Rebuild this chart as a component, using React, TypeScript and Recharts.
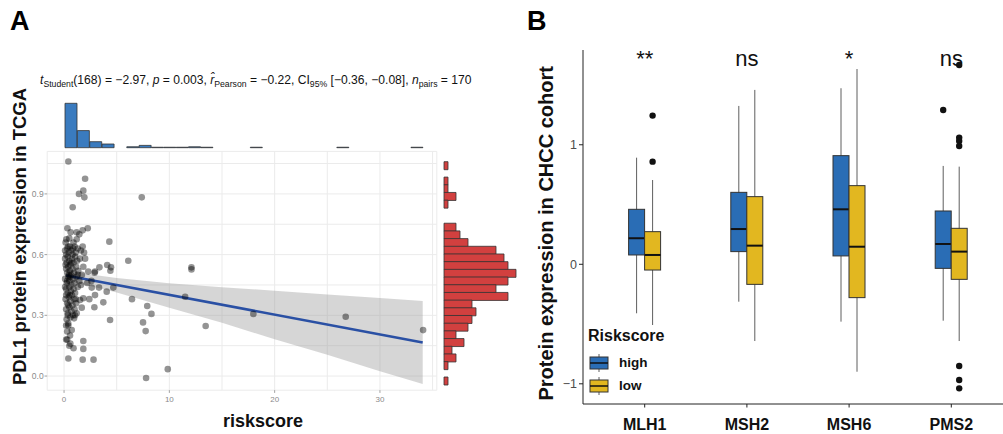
import React from "react";
import {
  ComposedChart,
  BarChart,
  Bar,
  Scatter,
  Line,
  Area,
  XAxis,
  YAxis,
  CartesianGrid,
  ReferenceDot,
  Legend,
} from "recharts";

const FONT = "'Liberation Sans', Arial, Helvetica, sans-serif";

// ---- panel A: riskscore vs PDL1 (TCGA) ----
// [riskscore, PDL1 protein expression]
const pdl1Points: [number, number][] = [
  [0.41, 1.06], [2.0, 0.975], [1.83, 0.916], [1.42, 0.9], [1.93, 0.883], [0.82, 0.834], [7.38, 0.883],
  [4.3, 0.664], [6.1, 0.57], [4.1, 0.549], [4.46, 0.537], [3.36, 0.537], [12.1, 0.527], [12.1, 0.537],
  [11.5, 0.392], [6.45, 0.38], [7.9, 0.346], [8.3, 0.307], [7.5, 0.265], [7.75, 0.222], [13.45, 0.247],
  [17.98, 0.307], [26.75, 0.293], [34.1, 0.227], [9.85, 0.034], [7.79, -0.01], [4.37, 0.277], [4.05, 0.417],
  [4.68, 0.437], [3.32, 0.437], [2.63, 0.437], [2.94, 0.4], [3.73, 0.364], [2.88, 0.34], [1.68, 0.338],
  [1.52, 0.376], [1.83, 0.384], [1.83, 0.173], [1.83, 0.134], [2.8, 0.081], [1.77, 0.081], [0.41, 0.087],
  [0.9, 0.137], [2.3, 0.516], [2.94, 0.516], [1.83, 0.54], [4.4, 0.52], [2.25, 0.73], [1.77, 0.72],
  [1.45, 0.7], [1.2, 0.71], [0.63, 0.71], [0.32, 0.73], [0.22, 0.676], [1.2, 0.676], [0.38, 0.64],
  [1.0, 0.64], [1.77, 0.64], [1.9, 0.61], [2.0, 0.58], [2.4, 0.38], [2.9, 0.51],
  [0.1, 0.62], [0.2, 0.6], [0.3, 0.63], [0.45, 0.61], [0.55, 0.64], [0.7, 0.62], [0.85, 0.63], [1.1, 0.61],
  [1.3, 0.63], [1.6, 0.62], [0.1, 0.58], [0.25, 0.56], [0.35, 0.59], [0.5, 0.57], [0.6, 0.55], [0.75, 0.58],
  [0.9, 0.56], [1.05, 0.59], [1.25, 0.57], [1.5, 0.58], [0.15, 0.55], [0.2, 0.53], [0.3, 0.51], [0.4, 0.54],
  [0.55, 0.52], [0.65, 0.5], [0.8, 0.53], [0.95, 0.51], [1.15, 0.54], [1.35, 0.52], [0.45, 0.5], [0.1, 0.48],
  [0.25, 0.46], [0.4, 0.49], [0.5, 0.47], [0.7, 0.45], [0.85, 0.48], [1.0, 0.46], [1.2, 0.49], [1.45, 0.47],
  [0.6, 0.49], [0.2, 0.43], [0.35, 0.41], [0.5, 0.44], [0.65, 0.42], [0.75, 0.4], [0.9, 0.43], [1.05, 0.41],
  [1.3, 0.44], [0.55, 0.4], [0.15, 0.38], [0.3, 0.36], [0.45, 0.39], [0.6, 0.37], [0.8, 0.35], [0.95, 0.38],
  [1.15, 0.36], [0.4, 0.35], [0.2, 0.33], [0.35, 0.31], [0.5, 0.34], [0.7, 0.32], [0.85, 0.3], [1.0, 0.33],
  [1.2, 0.31], [0.25, 0.28], [0.4, 0.26], [0.6, 0.29], [0.95, 0.285], [1.04, 0.3], [0.2, 0.25], [0.3, 0.22],
  [0.57, 0.2], [0.73, 0.227], [0.4, 0.25], [0.3, 0.18], [0.6, 0.16], [0.2, 0.18], [0.5, 0.15], [0.15, 0.66],
  [0.5, 0.68], [0.9, 0.66], [1.3, 0.5], [1.6, 0.45], [0.1, 0.44], [2.2, 0.46], [1.7, 0.5], [0.2, 0.4],
  [0.7, 0.56], [1.1, 0.38], [0.3, 0.47], [0.8, 0.6], [0.35, 0.3], [2.6, 0.47],
];

const fitX = [0.2, 34.06];
const fitY = [0.497, 0.166];

const bandX = [0.2, 2, 5, 10, 15, 20, 25, 30, 34.06];
const bandLow = [0.465, 0.451, 0.413, 0.338, 0.263, 0.182, 0.105, 0.024, -0.039];
const bandHigh = [0.529, 0.505, 0.485, 0.458, 0.439, 0.422, 0.403, 0.386, 0.371];

const xGridA = [0, 5, 10, 15, 20, 25, 30, 35];
const yGridA = [0, 0.15, 0.3, 0.45, 0.6, 0.75, 0.9, 1.05];
const xLabelsA = [0, 10, 20, 30];
const yLabelsA = [0, 0.3, 0.6, 0.9];

// marginal histogram of riskscore (bin centres, counts)
const riskBins = [0.7, 1.9, 3.0, 4.2, 5.4, 6.5, 7.7, 8.9, 10.0, 11.2, 12.4, 13.6, 14.7, 15.9, 17.1, 18.2, 19.4,
  20.6, 21.7, 22.9, 24.1, 25.2, 26.4, 27.6, 28.8, 29.9, 31.1, 32.3, 33.4];
const riskCounts = [96, 37, 13, 8, 0, 2, 5, 1, 1, 1, 2, 1, 0, 0, 0, 1, 0, 0, 0, 0, 0, 0, 1, 0, 0, 0, 0, 0, 1];

// marginal histogram of PDL1 (bin centres top to bottom, counts)
const pdl1Bins = [1.04, 1.0, 0.96, 0.93, 0.89, 0.85, 0.81, 0.77, 0.73, 0.7, 0.66, 0.62, 0.58, 0.54, 0.51,
  0.47, 0.43, 0.39, 0.35, 0.32, 0.28, 0.24, 0.2, 0.16, 0.13, 0.09, 0.05, 0.01, -0.03];
const pdl1Counts = [1, 0, 1, 1, 3, 1, 0, 0, 3, 4, 6, 13, 15, 16, 18, 16, 13, 16, 7, 8, 7, 6, 3, 5, 2, 3, 1, 0, 1];

// ---- panel B: MMR protein expression by riskscore group (CHCC) ----
const genes = ["MLH1", "MSH2", "MSH6", "PMS2"];
const signif = ["**", "ns", "*", "ns"];
const signifY = [1.66, 1.66, 1.66, 1.66];

const highMin = [-0.41, -0.313, -0.48, -0.472];
const highQ1 = [0.078, 0.106, 0.07, -0.034];
const highMed = [0.218, 0.295, 0.46, 0.17];
const highQ3 = [0.46, 0.602, 0.909, 0.446];
const highMax = [0.892, 1.325, 1.473, 0.823];
const highOut: number[][] = [[], [], [], [1.291]];

const lowMin = [-0.508, -0.642, -0.899, -0.642];
const lowQ1 = [-0.048, -0.168, -0.279, -0.126];
const lowMed = [0.078, 0.156, 0.147, 0.106];
const lowQ3 = [0.273, 0.566, 0.658, 0.301];
const lowMax = [0.705, 1.459, 1.634, 0.817];
const lowOut: number[][] = [[1.244, 0.859], [], [], [1.668, 1.06, 1.032, 0.99, -0.851, -0.968, -1.038]];

const BLUE = "#2a6db5";
const YELLOW = "#e2b720";

const scatterRows = pdl1Points.map(([x, y]) => ({ x, y }));
const fitRows = fitX.map((x, i) => ({ x, fit: fitY[i] }));
const bandRows = bandX.map((x, i) => ({ x, ci: [bandLow[i], bandHigh[i]] }));
const topRows = riskBins.map((bin, i) => ({ bin, count: riskCounts[i] }));
const rightRows = pdl1Bins.map((bin, i) => ({ bin, count: pdl1Counts[i] }));
const boxRows = genes.map((name, i) => ({
  name,
  high: { min: highMin[i], q1: highQ1[i], med: highMed[i], q3: highQ3[i], max: highMax[i], out: highOut[i] },
  low: { min: lowMin[i], q1: lowQ1[i], med: lowMed[i], q3: lowQ3[i], max: lowMax[i], out: lowOut[i] },
}));

const TICK_GREY = "#8a8a8a";

function RiskTick(props: any) {
  const { x, y, payload } = props;
  if (!xLabelsA.includes(payload.value)) return <g />;
  return (
    <g>
      <line x1={x} x2={x} y1={y} y2={y + 2.7} stroke={TICK_GREY} strokeWidth={0.8} />
      <text x={x} y={y + 12} textAnchor="middle" fontSize={8} fill={TICK_GREY}>
        {payload.value}
      </text>
    </g>
  );
}

function PdlTick(props: any) {
  const { x, y, payload } = props;
  if (!yLabelsA.some((v) => Math.abs(v - payload.value) < 1e-6)) return <g />;
  return (
    <g>
      <line x1={x - 2.7} x2={x} y1={y} y2={y} stroke={TICK_GREY} strokeWidth={0.8} />
      <text x={x - 3.5} y={y + 3} textAnchor="end" fontSize={8.5} fill={TICK_GREY}>
        {payload.value.toFixed(1)}
      </text>
    </g>
  );
}

function GeneTick(props: any) {
  const { x, y, payload } = props;
  return (
    <g>
      <line x1={x} x2={x} y1={y} y2={y + 3.5} stroke="#222" strokeWidth={1} />
      <text x={x} y={y + 25.5} textAnchor="middle" fontSize={16} fontWeight="bold" fill="#111">
        {payload.value}
      </text>
    </g>
  );
}

function boxShape(group: "high" | "low", fill: string) {
  return (props: any) => {
    const { x, y, width, height, payload } = props;
    const s = payload[group];
    const top = Math.min(y, y + height);
    const bot = Math.max(y, y + height);
    const px = (v: number) => bot - ((v - s.min) / (s.max - s.min)) * (bot - top);
    const cx = x + width / 2;
    return (
      <g>
        <line x1={cx} x2={cx} y1={px(s.max)} y2={px(s.min)} stroke="#5e5e5e" strokeWidth={1} />
        <rect x={x} y={px(s.q3)} width={width} height={px(s.q1) - px(s.q3)} fill={fill} stroke="#333" strokeWidth={1} />
        <line x1={x} x2={x + width} y1={px(s.med)} y2={px(s.med)} stroke="#111" strokeWidth={2} />
        {s.out.map((v: number, i: number) => (
          <circle key={i} cx={cx} cy={px(v)} r={3.2} fill="#111" />
        ))}
      </g>
    );
  };
}

function RiskLegend(props: any) {
  const items = props.payload || [];
  return (
    <div style={{ position: "relative", width: 120, height: 76, fontFamily: FONT, color: "#111" }}>
      <div style={{ position: "absolute", left: 0, top: 0, fontSize: 16, fontWeight: "bold", lineHeight: "20px" }}>
        Riskscore
      </div>
      {items.map((it: any, i: number) => (
        <div
          key={it.value}
          style={{ position: "absolute", left: 0, top: 26.5 + i * 23.5, height: 20, display: "flex", alignItems: "center" }}
        >
          <svg width={24} height={20}>
            <line x1={11} x2={11} y1={1} y2={19} stroke="#5e5e5e" />
            <rect x={2} y={4} width={18} height={12} fill={it.color} stroke="#333" />
            <line x1={2} x2={20} y1={10} y2={10} stroke="#111" strokeWidth={1.5} />
          </svg>
          <span style={{ marginLeft: 7, fontSize: 13.5, fontWeight: "bold", lineHeight: "20px" }}>{it.value}</span>
        </div>
      ))}
    </div>
  );
}

function ScatterPanel() {
  return (
    <ComposedChart
      width={460}
      height={434}
      data={bandRows}
      margin={{ top: 151.4, right: 23.2, bottom: 13.8, left: 7.2 }}
    >
      <CartesianGrid stroke="#ebebeb" strokeWidth={1} />
      <XAxis
        dataKey="x"
        type="number"
        domain={[-1.6, 35.4]}
        ticks={xGridA}
        allowDataOverflow
        height={30}
        axisLine={false}
        tickLine={false}
        tickSize={0}
        tickMargin={0}
        tick={<RiskTick />}
        interval={0}
      />
      <YAxis
        dataKey="y"
        type="number"
        domain={[-0.07, 1.11]}
        ticks={yGridA}
        allowDataOverflow
        width={40}
        axisLine={false}
        tickLine={false}
        tickSize={0}
        tickMargin={0}
        tick={<PdlTick />}
        interval={0}
      />
      <Scatter
        data={scatterRows}
        isAnimationActive={false}
        shape={(p: any) => <circle cx={p.cx} cy={p.cy} r={3.3} fill="#000" fillOpacity={0.42} />}
      />
      <Area dataKey="ci" type="linear" stroke="none" fill="#999999" fillOpacity={0.4} isAnimationActive={false} />
      <Line data={fitRows} dataKey="fit" stroke="#2a50a4" strokeWidth={2.6} dot={false} isAnimationActive={false} />
    </ComposedChart>
  );
}

function TopHist() {
  return (
    <BarChart
      width={440}
      height={160}
      data={topRows}
      margin={{ top: 103.3, right: 16.7, bottom: 12.3, left: 65 }}
      barCategoryGap={0}
    >
      <XAxis dataKey="bin" height={0} tick={false} tickLine={false} axisLine={{ stroke: "#333" }} interval={0} />
      <YAxis hide domain={[0, 96]} />
      <Bar dataKey="count" fill="#3a7bbf" stroke="#333" strokeWidth={0.8} isAnimationActive={false} />
    </BarChart>
  );
}

function RightHist() {
  return (
    <BarChart
      layout="vertical"
      width={100}
      height={434}
      data={rightRows}
      margin={{ top: 161.7, right: 14, bottom: 49.3, left: 14 }}
      barCategoryGap={0}
    >
      <XAxis type="number" hide domain={[0, 18]} />
      <YAxis type="category" dataKey="bin" width={0} tick={false} tickLine={false} axisLine={{ stroke: "#333" }} interval={0} />
      <Bar dataKey="count" fill="#d2403f" stroke="#333" strokeWidth={0.8} isAnimationActive={false} />
    </BarChart>
  );
}

function BoxPanel() {
  return (
    <ComposedChart
      width={490}
      height={434}
      data={boxRows}
      margin={{ top: 50, right: 7, bottom: 0, left: 13 }}
      barGap={0}
    >
      <XAxis
        dataKey="name"
        padding={{ left: 10.6, right: 10.6 }}
        height={30}
        axisLine={{ stroke: "#222" }}
        tickLine={false}
        tickSize={0}
        tickMargin={0}
        tick={<GeneTick />}
        interval={0}
      />
      <YAxis
        type="number"
        domain={[-1.169, 1.793]}
        ticks={[-1, 0, 1]}
        allowDataOverflow
        width={40}
        axisLine={{ stroke: "#222" }}
        tickLine={{ stroke: "#222" }}
        tickSize={4}
        tickMargin={2}
        tick={{ fontSize: 12.5, fill: "#4d4d4d" }}
        tickFormatter={(v: number) => (v < 0 ? "\u2212" + Math.abs(v) : String(v))}
      />
      <Bar
        name="high"
        dataKey={(d: any) => [d.high.min, d.high.max]}
        fill={BLUE}
        barSize={16}
        shape={boxShape("high", BLUE)}
        isAnimationActive={false}
      />
      <Bar
        name="low"
        dataKey={(d: any) => [d.low.min, d.low.max]}
        fill={YELLOW}
        barSize={16}
        shape={boxShape("low", YELLOW)}
        isAnimationActive={false}
      />
      {genes.map((g, i) => (
        <ReferenceDot
          key={g}
          x={g}
          y={signifY[i]}
          r={0}
          shape={(p: any) => (
            <text x={p.cx} y={p.cy} textAnchor="middle" fontSize={22} fill="#111">
              {signif[i]}
            </text>
          )}
        />
      ))}
      <Legend
        layout="vertical"
        align="center"
        verticalAlign="middle"
        wrapperStyle={{ left: 58, top: 326, width: 120 }}
        content={<RiskLegend />}
      />
    </ComposedChart>
  );
}

const subStyle: React.CSSProperties = { fontSize: 8.7, position: "relative", top: 3 };

export default function App() {
  return (
    <div
      style={{
        position: "absolute",
        left: 0,
        top: 0,
        width: 1003,
        height: 434,
        overflow: "hidden",
        background: "#fff",
        fontFamily: FONT,
      }}
    >
      <div style={{ position: "absolute", left: 0, top: 0 }}>
        <ScatterPanel />
      </div>
      <div style={{ position: "absolute", left: 0, top: 0 }}>
        <TopHist />
      </div>
      <div style={{ position: "absolute", left: 430, top: 0 }}>
        <RightHist />
      </div>
      <div style={{ position: "absolute", left: 530, top: 0 }}>
        <BoxPanel />
      </div>
      <div
        style={{
          position: "absolute",
          left: 40,
          top: 73,
          fontSize: 12.1,
          lineHeight: "15px",
          whiteSpace: "nowrap",
          color: "#111",
        }}
      >
        <i>t</i>
        <span style={subStyle}>Student</span>(168) = −2.97, <i>p</i> = 0.003,{" "}
        <i>r&#770;</i>
        <span style={subStyle}>Pearson</span> = −0.22, CI
        <span style={subStyle}>95%</span> [−0.36, −0.08], <i>n</i>
        <span style={subStyle}>pairs</span> = 170
      </div>
      <svg
        width={1003}
        height={434}
        style={{ position: "absolute", left: 0, top: 0, pointerEvents: "none" }}
      >
        <text x={10} y={30} fontSize={27} fontWeight="bold" fill="#000">A</text>
        <text x={527} y={30} fontSize={27} fontWeight="bold" fill="#000">B</text>
        <text
          x={25.5}
          y={236.5}
          transform="rotate(-90 25.5 236.5)"
          textAnchor="middle"
          fontSize={18.5}
          fontWeight="bold"
          fill="#111"
        >
          PDL1 protein expression in TCGA
        </text>
        <text x={263} y={426.5} textAnchor="middle" fontSize={18} fontWeight="bold" fill="#111">
          riskscore
        </text>
        <text
          x={553}
          y={233.3}
          transform="rotate(-90 553 233.3)"
          textAnchor="middle"
          fontSize={20}
          fontWeight="bold"
          fill="#111"
        >
          Protein expression in CHCC cohort
        </text>
      </svg>
    </div>
  );
}
